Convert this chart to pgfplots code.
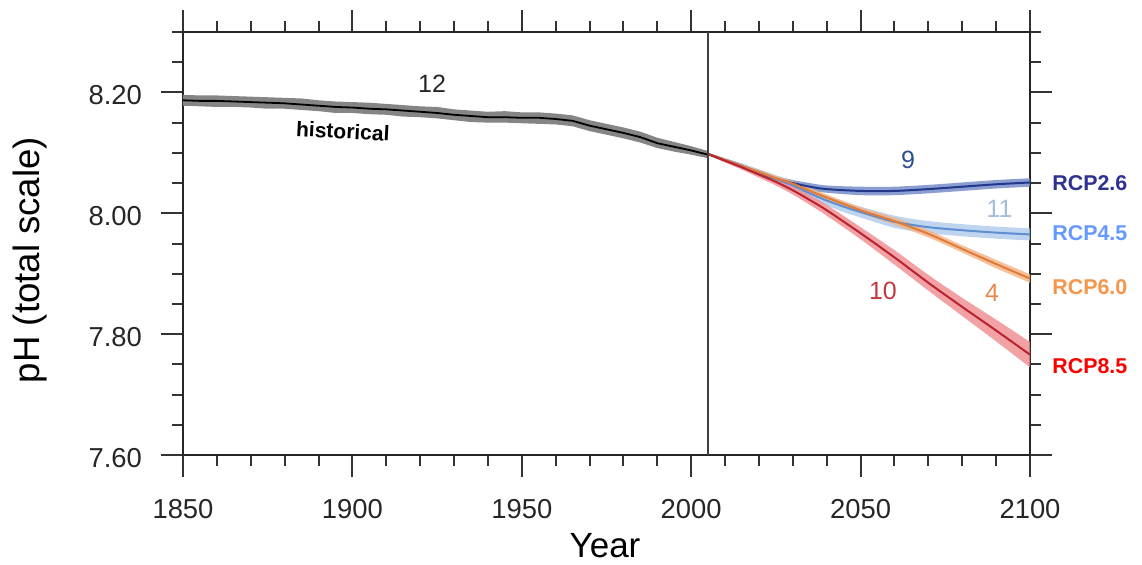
\documentclass[border=0pt]{standalone}
\usepackage{fontspec}
\setmainfont{Liberation Sans}
\usepackage{pgfplots}
\pgfplotsset{compat=1.18}
\usepackage{pgfplotstable}
\usepgfplotslibrary{fillbetween}

\definecolor{l26}{HTML}{23378C}
\definecolor{b26}{HTML}{6D86C6}
\definecolor{l45}{HTML}{5E8FD0}
\definecolor{b45}{HTML}{A9C6EA}
\definecolor{l60}{HTML}{E07B39}
\definecolor{b60}{HTML}{F2B283}
\definecolor{l85}{HTML}{B8232F}
\definecolor{b85}{HTML}{EF8A8F}
\definecolor{t26}{HTML}{2E3192}
\definecolor{t45}{HTML}{6699FF}
\definecolor{t60}{HTML}{F7954A}
\definecolor{t85}{HTML}{FF0000}
\definecolor{n26}{HTML}{2D4F91}
\definecolor{n45}{HTML}{A3BCD8}
\definecolor{n60}{HTML}{E58A4C}
\definecolor{n85}{HTML}{C1393F}

\pgfplotstableread{
x m lo hi
1850 8.187 8.178 8.196
1855 8.186 8.177 8.195
1860 8.186 8.176 8.195
1865 8.185 8.176 8.194
1870 8.184 8.175 8.193
1875 8.183 8.173 8.192
1880 8.182 8.173 8.191
1885 8.180 8.171 8.190
1890 8.178 8.169 8.187
1895 8.176 8.166 8.185
1900 8.175 8.166 8.184
1905 8.173 8.164 8.183
1910 8.172 8.163 8.181
1915 8.170 8.160 8.179
1920 8.168 8.159 8.177
1925 8.166 8.157 8.176
1930 8.163 8.154 8.172
1935 8.161 8.151 8.170
1940 8.159 8.150 8.168
1945 8.159 8.150 8.169
1950 8.158 8.149 8.167
1955 8.158 8.148 8.167
1960 8.156 8.147 8.165
1965 8.153 8.144 8.162
1970 8.145 8.136 8.154
1975 8.139 8.130 8.148
1980 8.133 8.124 8.142
1985 8.126 8.117 8.135
1990 8.116 8.108 8.125
1995 8.110 8.102 8.118
2000 8.104 8.097 8.111
2005 8.097 8.091 8.103
}\hist

\pgfplotstableread{
x m lo hi
2005 8.098 8.096 8.100
2010 8.088 8.085 8.091
2015 8.078 8.074 8.082
2020 8.067 8.063 8.071
2025 8.057 8.052 8.062
2030 8.050 8.045 8.055
2035 8.044 8.038 8.050
2040 8.040 8.034 8.046
2050 8.037 8.030 8.044
2060 8.037 8.030 8.044
2070 8.040 8.033 8.047
2080 8.044 8.037 8.051
2090 8.048 8.041 8.055
2100 8.051 8.044 8.058
}\rcpA

\pgfplotstableread{
x m lo hi
2005 8.098 8.096 8.100
2010 8.088 8.085 8.091
2015 8.078 8.074 8.082
2020 8.068 8.063 8.073
2025 8.057 8.051 8.063
2030 8.046 8.040 8.052
2035 8.033 8.026 8.040
2040 8.021 8.013 8.029
2045 8.011 8.002 8.020
2050 8.002 7.993 8.011
2060 7.986 7.976 7.996
2070 7.977 7.967 7.987
2080 7.972 7.962 7.982
2090 7.968 7.958 7.978
2100 7.965 7.955 7.975
}\rcpB

\pgfplotstableread{
x m lo hi
2005 8.098 8.096 8.100
2010 8.088 8.085 8.091
2015 8.078 8.075 8.081
2020 8.068 8.064 8.072
2025 8.058 8.054 8.062
2030 8.049 8.045 8.053
2035 8.037 8.032 8.042
2040 8.026 8.021 8.031
2050 8.005 8.000 8.010
2060 7.987 7.981 7.993
2070 7.966 7.960 7.972
2080 7.941 7.935 7.947
2090 7.916 7.909 7.923
2100 7.892 7.885 7.899
}\rcpC

\pgfplotstableread{
x m lo hi
2005 8.098 8.096 8.100
2010 8.087 8.084 8.090
2015 8.076 8.072 8.080
2020 8.064 8.059 8.069
2025 8.052 8.046 8.058
2030 8.038 8.031 8.045
2035 8.022 8.014 8.030
2040 8.005 7.996 8.014
2050 7.967 7.957 7.977
2060 7.927 7.915 7.939
2070 7.885 7.872 7.898
2080 7.845 7.830 7.860
2090 7.806 7.788 7.824
2100 7.766 7.745 7.787
}\rcpD

\begin{document}
\begin{tikzpicture}
\begin{axis}[
  at={(0,0)}, anchor=south west,
  scale only axis, width=423.5bp, height=211.5bp,
  xmin=1850, xmax=2100, ymin=7.6, ymax=8.3,
  xtick={1850,1900,...,2100},
  minor x tick num=4,
  ytick={7.6,7.8,8.0,8.2},
  minor ytick={7.65,7.70,7.75,7.85,7.90,7.95,8.05,8.10,8.15,8.25,8.30},
  tick align=outside, xtick pos=both, ytick pos=both,
  xticklabel pos=lower, yticklabel pos=left,
  major tick length=11bp, minor tick length=5.5bp,
  every tick/.append style={black!80, line width=1bp},
  axis line style={black!85, line width=1.2bp},
  clip=false,
  tick label style={font=\fontsize{13.7bp}{16bp}\selectfont, text=black!85},
  /pgf/number format/assume math mode=true,
  yticklabel style={/pgf/number format/fixed, /pgf/number format/fixed zerofill, /pgf/number format/precision=2, xshift=-6bp, yshift=-1.5bp},
  xticklabel style={/pgf/number format/1000 sep={}, yshift=-7.5bp},
]
% historical
\addplot[draw=none, name path=hh, forget plot] table[x=x,y=hi]{\hist};
\addplot[draw=none, name path=hl, forget plot] table[x=x,y=lo]{\hist};
\addplot[black!48, forget plot] fill between[of=hh and hl];
% bands
\addplot[draw=none, smooth, name path=ah] table[x=x,y=hi]{\rcpA};
\addplot[draw=none, smooth, name path=al] table[x=x,y=lo]{\rcpA};
\addplot[b26, opacity=0.8] fill between[of=ah and al];
\addplot[draw=none, smooth, name path=bh] table[x=x,y=hi]{\rcpB};
\addplot[draw=none, smooth, name path=bl] table[x=x,y=lo]{\rcpB};
\addplot[b45, opacity=0.75] fill between[of=bh and bl];
\addplot[draw=none, smooth, name path=ch] table[x=x,y=hi]{\rcpC};
\addplot[draw=none, smooth, name path=cl] table[x=x,y=lo]{\rcpC};
\addplot[b60, opacity=0.8] fill between[of=ch and cl];
\addplot[draw=none, smooth, name path=dh] table[x=x,y=hi]{\rcpD};
\addplot[draw=none, smooth, name path=dl] table[x=x,y=lo]{\rcpD};
\addplot[b85, opacity=0.8] fill between[of=dh and dl];
% lines
\addplot[black, line width=0.9bp] table[x=x,y=m]{\hist};
\addplot[l26, line width=1bp, smooth] table[x=x,y=m]{\rcpA};
\addplot[l45, line width=1bp, smooth] table[x=x,y=m]{\rcpB};
\addplot[l60, line width=1bp, smooth] table[x=x,y=m]{\rcpC};
\addplot[l85, line width=1bp, smooth] table[x=x,y=m]{\rcpD};
% separator
\addplot[black!75, line width=1bp] coordinates {(2005,7.6) (2005,8.3)};
% annotations
\node[font=\fontsize{12.5bp}{15bp}\selectfont, text=black!85] at (axis cs:1923.5,8.215) {12};
\node[font=\fontsize{10.5bp}{12bp}\selectfont\bfseries, rotate=-3] at (axis cs:1897.2,8.136) {historical};
\node[font=\fontsize{12.5bp}{15bp}\selectfont, text=n26] at (axis cs:2064,8.088) {9};
\node[font=\fontsize{12.5bp}{15bp}\selectfont, text=n45] at (axis cs:2091,8.008) {11};
\node[font=\fontsize{12.5bp}{15bp}\selectfont, text=n85] at (axis cs:2056.6,7.871) {10};
\node[font=\fontsize{12.5bp}{15bp}\selectfont, text=n60] at (axis cs:2088.8,7.868) {4};
\node[font=\fontsize{10.7bp}{12bp}\selectfont\bfseries, text=t26, anchor=west, inner sep=0pt, xshift=11bp] at (axis cs:2100,8.050) {RCP2.6};
\node[font=\fontsize{10.7bp}{12bp}\selectfont\bfseries, text=t45, anchor=west, inner sep=0pt, xshift=11bp] at (axis cs:2100,7.967) {RCP4.5};
\node[font=\fontsize{10.7bp}{12bp}\selectfont\bfseries, text=t60, anchor=west, inner sep=0pt, xshift=11bp] at (axis cs:2100,7.878) {RCP6.0};
\node[font=\fontsize{10.7bp}{12bp}\selectfont\bfseries, text=t85, anchor=west, inner sep=0pt, xshift=11bp] at (axis cs:2100,7.747) {RCP8.5};
\end{axis}
\node[rotate=90, font=\fontsize{18.3bp}{21bp}\selectfont] at (-76.5bp,97.5bp) {pH (total scale)};
\node[font=\fontsize{17.5bp}{20bp}\selectfont, anchor=base] at (211bp,-51.5bp) {Year};
\path (-91.5bp,-54.5bp) rectangle (479.5bp,227.5bp);
\end{tikzpicture}
\end{document}
